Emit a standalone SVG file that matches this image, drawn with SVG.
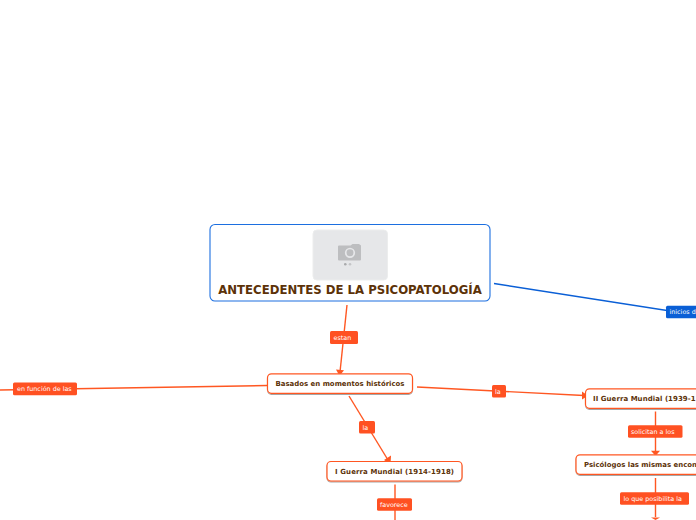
<svg xmlns="http://www.w3.org/2000/svg" width="696" height="520" viewBox="0 0 696 520">
<style>
text{font-family:"DejaVu Sans",Verdana,sans-serif}
.n{fill:#fff;stroke:#ff5722;stroke-width:1.2;filter:url(#sh)}
.nt{font-size:6.95px;font-weight:700;fill:#5c3208;text-anchor:middle}
.l{fill:#ff5122}
.lt{font-size:6.4px;fill:#fff}
.c{fill:none;stroke:#ff5722;stroke-width:1.4}
.a{fill:#ff5722}
</style>
<defs><filter id="sh" x="-5%" y="-20%" width="110%" height="150%"><feDropShadow dx="0" dy="1" stdDeviation="0.7" flood-color="#000" flood-opacity="0.35"/></filter></defs>
<rect width="696" height="520" fill="#fff"/>
<g id="connectors">
<path class="c" d="M347 305L340 372"/><polygon class="a" points="336,369.500 344,370.200 339.500,376"/>
<path class="c" d="M267 385.500L0 390"/>
<path class="c" d="M349 396L388 460"/><polygon class="a" points="384,460 391,455.500 390.500,464.500"/>
<path class="c" d="M417 387L584 395.500"/><polygon class="a" points="582,391.500 588,395.700 582,399.500"/>
<path class="c" d="M395 484.500V520"/>
<path class="c" d="M655.500 411.500V452"/><polygon class="a" points="651,450.800 660,450.800 655.500,456"/>
<path class="c" d="M655.500 478V517"/><polygon class="a" points="651,517.500 660,517.500 655.500,520"/>
<path fill="none" stroke="#0a5fd6" stroke-width="1.5" d="M494 283.500L696 315"/>
</g>
<g id="root">
<rect x="210" y="224.500" width="280" height="76.500" rx="5" fill="#fff" stroke="#1c6fe0" stroke-width="1.1"/>
<rect x="313" y="230" width="74.500" height="50" rx="4" fill="#e6e7e9" stroke="#eceded"/>
<path fill="#bdbec0" d="M339.500 245.500h11l2-1.500h6.500l2 1.500v14a1 1 0 0 1-1 1h-21a1 1 0 0 1-1-1v-13a1 1 0 0 1 1-1z"/>
<circle cx="350" cy="252.800" r="4.300" fill="#bdbec0" stroke="#e6e7e9" stroke-width="1.700"/>
<circle cx="345.300" cy="264.300" r="1.300" fill="#a9aaac"/><circle cx="350" cy="264.300" r="1.300" fill="#c4c5c7"/>
<text x="350" y="293.500" text-anchor="middle" font-size="11.720" font-weight="700" fill="#5c3208">ANTECEDENTES DE LA PSICOPATOLOGÍA</text>
</g>
<g id="basados"><rect class="n" x="267.500" y="373.800" width="145" height="19.500" rx="4"/><text class="nt" x="340" y="386">Basados en momentos históricos</text></g>
<g id="guerra1"><rect class="n" x="327" y="461.500" width="135" height="19.500" rx="4"/><text class="nt" x="394.500" y="474" textLength="119">I Guerra Mundial (1914-1918)</text></g>
<g id="guerra2"><rect class="n" x="585.500" y="388.800" width="140" height="19.500" rx="4"/><text class="nt" x="593" y="401" style="text-anchor:start" textLength="102.500">II Guerra Mundial (1939-1</text></g>
<g id="psicologos"><rect class="n" x="576" y="454.800" width="170" height="19.500" rx="4"/><text class="nt" x="584" y="467" style="text-anchor:start">Psicólogos las mismas encon</text></g>
<g id="l-estan"><rect class="l" x="330" y="331" width="28" height="13" rx="1.500"/><text class="lt" x="333.500" y="340">estan</text></g>
<g id="l-funcion"><rect class="l" x="13" y="382.500" width="64" height="12.800" rx="1.500"/><text class="lt" x="17" y="391">en función de las</text></g>
<g id="l-la1"><rect class="l" x="359" y="421" width="16" height="12.500" rx="1.500"/><text class="lt" x="362.500" y="430">la</text></g>
<g id="l-la2"><rect class="l" x="492" y="385" width="14" height="12.500" rx="1.500"/><text class="lt" x="495" y="393.500">la</text></g>
<g id="l-favorece"><rect class="l" x="377" y="498.300" width="35" height="12.500" rx="1.500"/><text class="lt" x="380" y="507">favorece</text></g>
<g id="l-solicitan"><rect class="l" x="628" y="425.300" width="54.500" height="12.500" rx="1.500"/><text class="lt" x="631" y="434">solicitan a los</text></g>
<g id="l-loque"><rect class="l" x="620" y="492.300" width="69" height="12.500" rx="1.500"/><text class="lt" x="623.500" y="501">lo que posibilita la</text></g>
<g id="l-inicios"><rect x="666" y="305.700" width="50" height="12.500" rx="1.500" fill="#0a5fd6"/><text class="lt" x="669.500" y="314.300">inicios d</text></g>
</svg>
